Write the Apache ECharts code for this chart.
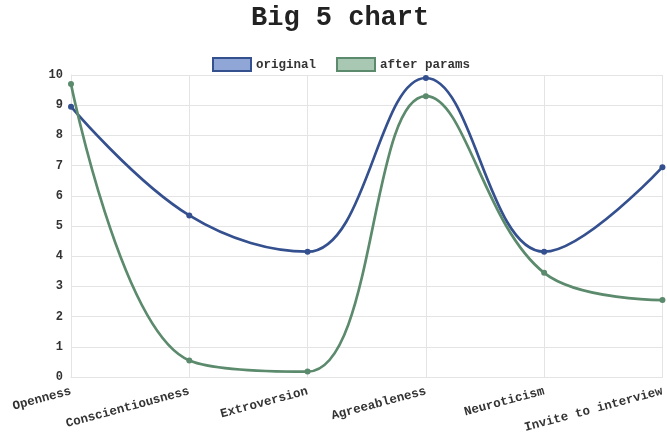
<!DOCTYPE html>
<html><head><meta charset="utf-8">
<script src="https://cdn.jsdelivr.net/npm/echarts@6/dist/echarts.min.js"></script>
<style>html,body{margin:0;padding:0;background:#fff}#c{width:667px;height:435px}</style>
</head><body><div id="c"></div>
<script>
const categories = ['Openness','Conscientiousness','Extroversion','Agreeableness','Neuroticism','Invite to interview'];
const originalValues = [8.95, 5.35, 4.15, 9.9, 4.15, 6.95];
const afterParamsValues = [9.7, 0.55, 0.18, 9.3, 3.45, 2.55];
const yTicks = [0,1,2,3,4,5,6,7,8,9,10];
const font = '"Liberation Mono", "DejaVu Sans Mono", monospace';
const chart = echarts.init(document.getElementById('c'));
chart.setOption({
  animation:false,
  backgroundColor:'#ffffff',
  title:{text:'Big 5 chart',left:246,top:0,textStyle:{fontFamily:font,fontWeight:'bold',fontSize:27,color:'#222'}},
  legend:{top:52,left:207,itemWidth:38,itemHeight:13,itemGap:20,
    textStyle:{fontFamily:font,fontWeight:'bold',fontSize:12.5,color:'#333'},
    data:[{name:'original',icon:'rect',itemStyle:{color:'#8fa6d6',borderColor:'#34508f',borderWidth:2}},
          {name:'after params',icon:'rect',itemStyle:{color:'#a8c8b4',borderColor:'#5b8a6c',borderWidth:2}}]},
  grid:{left:71,right:1,top:75,bottom:57,containLabel:false},
  xAxis:{type:'category',data:categories,boundaryGap:false,
    axisLine:{show:true,lineStyle:{color:'#e4e4e4'}},
    axisTick:{show:false},
    splitLine:{show:true,lineStyle:{color:'#e4e4e4'}},
    axisLabel:{rotate:15,margin:14,fontFamily:font,fontWeight:'bold',fontSize:12.5,color:'#333',interval:0}},
  yAxis:{type:'value',min:0,max:10,interval:1,
    axisLine:{show:true,lineStyle:{color:'#e4e4e4'}},
    axisTick:{show:false},
    splitLine:{show:true,lineStyle:{color:'#e4e4e4'}},
    axisLabel:{margin:8,fontFamily:font,fontWeight:'bold',fontSize:12,color:'#333',
      formatter:v=>yTicks.includes(v)?String(v):''}},
  series:[
    {name:'original',type:'line',data:originalValues,smooth:0.4,symbol:'circle',symbolSize:6,
      lineStyle:{color:'#34508f',width:2.7},itemStyle:{color:'#34508f'}},
    {name:'after params',type:'line',data:afterParamsValues,smooth:0.4,symbol:'circle',symbolSize:6,
      lineStyle:{color:'#5b8a6c',width:2.7},itemStyle:{color:'#5b8a6c'}}
  ]
});
</script></body></html>
